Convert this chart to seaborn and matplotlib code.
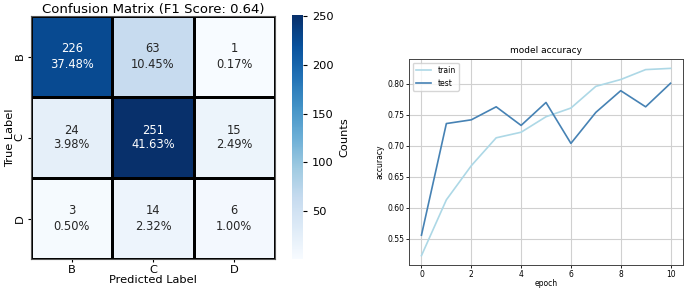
import numpy as np
import pandas as pd
import matplotlib
matplotlib.use("Agg")
import matplotlib.pyplot as plt
import seaborn as sns

labels = ["B", "C", "D"]
counts = [[226, 63, 1],
          [24, 251, 15],
          [3, 14, 6]]
f1_score = 0.64

epochs = [0, 1, 2, 3, 4, 5, 6, 7, 8, 9, 10]
train_acc = [0.523, 0.613, 0.668, 0.713, 0.722, 0.747, 0.761, 0.796, 0.807, 0.823, 0.825]
test_acc = [0.556, 0.736, 0.742, 0.763, 0.733, 0.770, 0.704, 0.754, 0.789, 0.763, 0.801]

W, H = 685, 289
fig = plt.figure(figsize=(W / 100, H / 100), dpi=100)

def box(x0, y0, x1, y1):
    return [x0 / W, 1 - y1 / H, (x1 - x0) / W, (y1 - y0) / H]

ax1 = fig.add_axes(box(31, 16, 275, 259))
cax = fig.add_axes(box(292, 15, 303, 259))

cm = np.array(counts)
total = cm.sum()
annot = np.array([[f"{v}\n{v / total * 100:.2f}%" for v in row] for row in cm])
df = pd.DataFrame(cm, index=labels, columns=labels)
sns.heatmap(df, annot=annot, fmt="", cmap="Blues", ax=ax1, cbar_ax=cax,
            linewidths=1, linecolor="black",
            annot_kws={"fontsize": 8.3},
            cbar_kws={"label": "Counts"})
ax1.set_title(f"Confusion Matrix (F1 Score: {f1_score:.2f})", fontsize=9.5, pad=1)
ax1.set_xlabel("Predicted Label", fontsize=8.2, labelpad=0)
ax1.set_ylabel("True Label", fontsize=8.2, labelpad=0)
ax1.tick_params(labelsize=8.2, length=2.5, pad=2)
ax1.set_yticklabels(labels, rotation=90, va="center")
for s in ax1.spines.values():
    s.set_visible(True)
    s.set_color("#555555")
    s.set_linewidth(0.8)
cax.tick_params(labelsize=8.2, length=3)
cax.yaxis.label.set_size(8.2)

ax2 = fig.add_axes(box(409, 59, 683, 265))
hist = pd.DataFrame({"epoch": epochs + epochs,
                     "accuracy": train_acc + test_acc,
                     "set": ["train"] * len(epochs) + ["test"] * len(epochs)})
sns.lineplot(data=hist, x="epoch", y="accuracy", hue="set",
             palette={"train": "#add8e6", "test": "#4682b4"}, ax=ax2, linewidth=1.2)
ax2.set_title("model accuracy", fontsize=6.5, pad=4)
ax2.set_xlabel("epoch", fontsize=5.5, labelpad=0)
ax2.set_ylabel("accuracy", fontsize=5.5, labelpad=2)
ax2.tick_params(labelsize=5.5, length=2, width=0.6, pad=1.5)
ax2.set_xticks([0, 2, 4, 6, 8, 10])
ax2.set_yticks([0.55, 0.60, 0.65, 0.70, 0.75, 0.80])
ax2.grid(True, color="#d0d0d0", linewidth=0.8)
for s in ax2.spines.values():
    s.set_color("#444444")
    s.set_linewidth(0.7)
leg = ax2.legend(loc="upper left", fontsize=5.5, title=None)

fig.savefig("out.png", dpi=100)
